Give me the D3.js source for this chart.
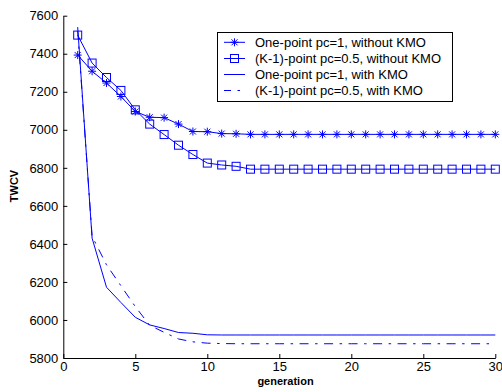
<!DOCTYPE html>
<html>
<head>
<meta charset="utf-8">
<script src="https://cdn.jsdelivr.net/npm/d3@7"></script>
<style>
  body { margin: 0; background: #fff; }
  svg { display: block; font-family: "Liberation Sans", Arial, sans-serif; }
</style>
</head>
<body>
<svg id="chart" width="502" height="392"></svg>
<script>
// generation axis
const generations = [1, 2, 3, 4, 5, 6, 7, 8, 9, 10, 11, 12, 13, 14, 15,
  16, 17, 18, 19, 20, 21, 22, 23, 24, 25, 26, 27, 28, 29, 30];

// One-point pc=1, without KMO
const onePointNoKmo = [7393, 7308, 7246, 7175, 7096, 7066, 7064, 7030, 6991, 6990,
  6980, 6979, 6976, 6976, 6976, 6976, 6976, 6976, 6976, 6976,
  6976, 6976, 6976, 6976, 6976, 6976, 6976, 6976, 6976, 6976];
// (K-1)-point pc=0.5, without KMO
const kPointNoKmo = [7498, 7351, 7275, 7207, 7105, 7030, 6975, 6919, 6870, 6825,
  6815, 6808, 6793, 6793, 6793, 6793, 6793, 6793, 6793, 6793,
  6793, 6793, 6793, 6793, 6793, 6793, 6793, 6793, 6793, 6793];
// One-point pc=1, with KMO
const onePointKmo = [7540, 6430, 6172, 6092, 6014, 5974, 5955, 5934, 5930, 5922,
  5921, 5921, 5921, 5921, 5921, 5921, 5921, 5921, 5921, 5921,
  5921, 5921, 5921, 5921, 5921, 5921, 5921, 5921, 5921, 5921];
// (K-1)-point pc=0.5, with KMO
const kPointKmo = [7520, 6440, 6290, 6180, 6070, 5972, 5935, 5900, 5885, 5878,
  5876, 5875, 5875, 5875, 5875, 5875, 5875, 5875, 5875, 5875,
  5875, 5875, 5875, 5875, 5875, 5875, 5875, 5875, 5875, 5875];

const seriesNames = [
  "One-point pc=1, without KMO",
  "(K-1)-point pc=0.5, without KMO",
  "One-point pc=1, with KMO",
  "(K-1)-point pc=0.5, with KMO"
];
const xTicks = [0, 5, 10, 15, 20, 25, 30];
const yTicks = [5800, 6000, 6200, 6400, 6600, 6800, 7000, 7200, 7400, 7600];

const blue = "#0000ff";
const series = [
  { name: seriesNames[0], values: onePointNoKmo, marker: "star", dash: null },
  { name: seriesNames[1], values: kPointNoKmo, marker: "square", dash: null },
  { name: seriesNames[2], values: onePointKmo, marker: null, dash: null },
  { name: seriesNames[3], values: kPointKmo, marker: null, dash: "9,6.5,2.5,6.5" }
];

const svg = d3.select("#chart");
const x = d3.scaleLinear().domain([0, 30]).range([63.3, 495.3]);
const y = d3.scaleLinear().domain([5800, 7600]).range([358, 15.7]);

// lines
const line = d3.line().x((d, i) => x(generations[i])).y(d => y(d));
series.forEach(s => {
  svg.append("path")
    .datum(s.values)
    .attr("fill", "none")
    .attr("stroke", blue)
    .attr("stroke-width", 1)
    .attr("stroke-dasharray", s.dash)
    .attr("d", line);
});

// markers
function drawMarker(g, type, cx, cy) {
  const r = 4;
  if (type === "star") {
    const d = `M${cx - r},${cy}H${cx + r}M${cx},${cy - r}V${cy + r}` +
      `M${cx - r * 0.75},${cy - r * 0.75}L${cx + r * 0.75},${cy + r * 0.75}` +
      `M${cx - r * 0.75},${cy + r * 0.75}L${cx + r * 0.75},${cy - r * 0.75}`;
    g.append("path").attr("d", d).attr("stroke", blue).attr("stroke-width", 1).attr("fill", "none");
  } else if (type === "square") {
    g.append("rect")
      .attr("x", cx - r).attr("y", cy - r)
      .attr("width", 2 * r).attr("height", 2 * r)
      .attr("fill", "none").attr("stroke", blue).attr("stroke-width", 1);
  }
}
const markers = svg.append("g");
series.filter(s => s.marker).forEach(s => {
  s.values.forEach((v, i) => drawMarker(markers, s.marker, x(generations[i]), y(v)));
});

// axes
const xAxis = svg.append("g")
  .attr("transform", `translate(0,${y(5800)})`)
  .call(d3.axisBottom(x).tickValues(xTicks).tickSizeInner(-4).tickSizeOuter(0).tickPadding(4));
const yAxis = svg.append("g")
  .attr("transform", `translate(${x(0)},0)`)
  .call(d3.axisLeft(y).tickValues(yTicks).tickFormat(d3.format("d")).tickSizeInner(-4).tickSizeOuter(0).tickPadding(5));
[xAxis, yAxis].forEach(a => {
  a.selectAll("text").attr("font-size", 13).attr("fill", "#000")
    .attr("font-family", "'Liberation Sans', Arial, sans-serif");
  a.selectAll("line, path").attr("stroke", "#000");
});

// axis labels
svg.append("text")
  .attr("x", 285.5).attr("y", 385)
  .attr("text-anchor", "middle")
  .attr("font-size", 11).attr("font-weight", "bold")
  .text("generation");
svg.append("text")
  .attr("transform", "translate(18,186) rotate(-90)")
  .attr("text-anchor", "middle")
  .attr("font-size", 11).attr("font-weight", "bold")
  .text("TWCV");

// legend
const legend = svg.append("g");
legend.append("rect")
  .attr("x", 217.5).attr("y", 32.5)
  .attr("width", 235).attr("height", 69)
  .attr("fill", "#fff").attr("stroke", "#000").attr("stroke-width", 1);
const rowY = [42.3, 58.5, 74.5, 90.5];
series.forEach((s, i) => {
  legend.append("line")
    .attr("x1", 224).attr("x2", 245)
    .attr("y1", rowY[i]).attr("y2", rowY[i])
    .attr("stroke", blue).attr("stroke-width", 1)
    .attr("stroke-dasharray", s.dash ? "7,6.5,2.5,6.5" : null);
  if (s.marker) drawMarker(legend, s.marker, 234.5, rowY[i]);
  legend.append("text")
    .attr("x", 255).attr("y", rowY[i])
    .attr("dy", "0.35em")
    .attr("font-size", 13)
    .text(s.name);
});
</script>
</body>
</html>
